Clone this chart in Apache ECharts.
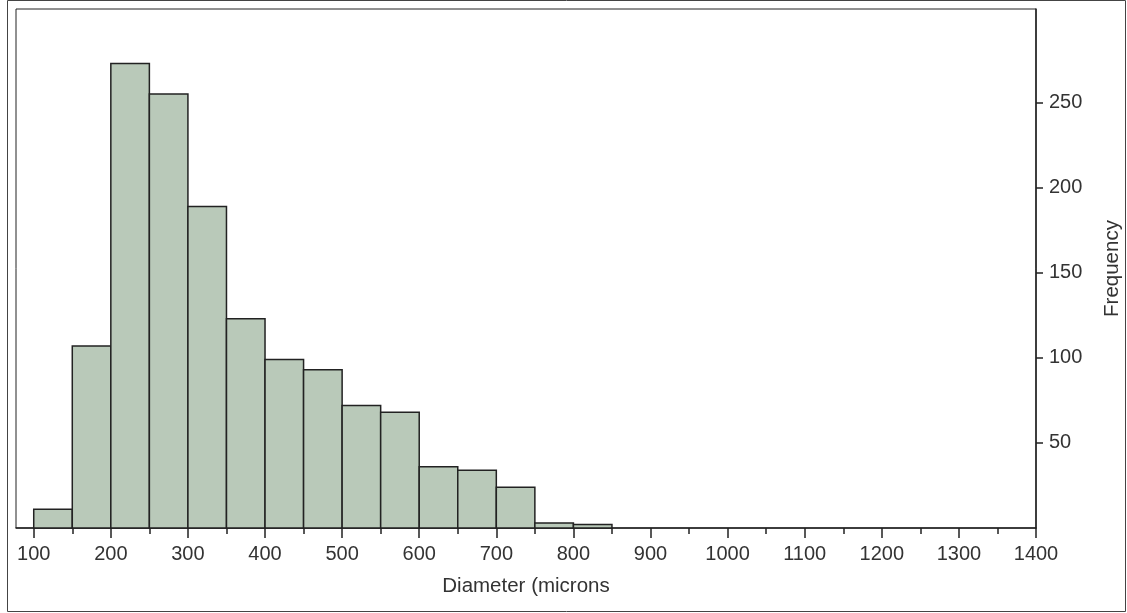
<!DOCTYPE html>
<html lang="en">
<head>
    <meta charset="UTF-8">
    <title>Diameter histogram</title>
    <style>
        html,body{
            height: 100%;
        }
        body{
            margin: 0;
            padding: 0;
            background: #fff;
        }
        #chart_hist{
            width: 1127px;
            height: 613px;
        }
    </style>
</head>
<body>
    <div id="chart_hist"></div>
<script src="https://cdn.jsdelivr.net/npm/echarts@6/dist/echarts.min.js"></script>
<script>
    // bins are 50 microns wide, starting at 100
    var binWidth = 50;
    var binStarts = [100, 150, 200, 250, 300, 350, 400, 450, 500, 550, 600, 650, 700, 750, 800];
    var counts = [11, 107, 273, 255, 189, 123, 99, 93, 72, 68, 36, 34, 24, 3, 2];

    var xMajorTicks = [100, 200, 300, 400, 500, 600, 700, 800, 900, 1000, 1100, 1200, 1300, 1400];
    var xMinorTicks = [150, 250, 350, 450, 550, 650, 750, 850, 950, 1050, 1150, 1250, 1350];
    var yTicks = [50, 100, 150, 200, 250];

    var font = 'Liberation Sans, Arial, sans-serif';
    var ink = '#222';

    var histData = binStarts.map(function (s, i) {
        return [s, s + binWidth, counts[i]];
    });

    function renderBin(params, api) {
        var p0 = api.coord([api.value(0), api.value(2)]);
        var p1 = api.coord([api.value(1), 0]);
        return {
            type: 'rect',
            shape: {x: p0[0], y: p0[1], width: p1[0] - p0[0], height: p1[1] - p0[1]},
            style: {fill: '#b9c9b9', stroke: ink, lineWidth: 1.5}
        };
    }

    function plain(v) {
        return String(v);
    }

    var myChart = echarts.init(document.getElementById('chart_hist'));

    myChart.setOption({
        animation: false,
        graphic: [{
            type: 'rect',
            shape: {x: 7.5, y: 0.5, width: 1118, height: 611},
            style: {fill: null, stroke: '#444', lineWidth: 1}
        }],
        grid: {
            left: 16,
            top: 9,
            right: 91,
            bottom: 85,
            outerBoundsMode: 'none',
            show: true,
            borderColor: ink,
            borderWidth: 1
        },
        xAxis: [{
            type: 'value',
            position: 'bottom',
            min: 77,
            max: 1400,
            name: 'Diameter (microns',
            nameLocation: 'middle',
            nameGap: 48,
            nameTextStyle: {fontFamily: font, fontSize: 20.5, color: '#333'},
            splitLine: {show: false},
            axisLine: {lineStyle: {color: ink, width: 1.5}},
            axisTick: {customValues: xMajorTicks, length: 10, lineStyle: {color: ink, width: 1.5}},
            axisLabel: {customValues: xMajorTicks, formatter: plain, margin: 16, fontFamily: font, fontSize: 20, color: '#333'}
        }, {
            type: 'value',
            position: 'bottom',
            min: 77,
            max: 1400,
            splitLine: {show: false},
            axisLine: {show: false},
            axisTick: {customValues: xMinorTicks, length: 6, lineStyle: {color: ink, width: 1.5}},
            axisLabel: {show: false}
        }],
        yAxis: {
            type: 'value',
            position: 'right',
            min: 0,
            max: 305,
            name: 'Frequency',
            nameLocation: 'middle',
            nameGap: 66,
            nameTextStyle: {fontFamily: font, fontSize: 20.5, color: '#333'},
            splitLine: {show: false},
            axisLine: {show: true, lineStyle: {color: ink, width: 1.5}},
            axisTick: {show: true, customValues: yTicks, length: 7, lineStyle: {color: ink, width: 1.5}},
            axisLabel: {customValues: yTicks, formatter: plain, margin: 13, fontFamily: font, fontSize: 20, color: '#333'}
        },
        series: [{
            type: 'custom',
            renderItem: renderBin,
            encode: {x: [0, 1], y: 2},
            data: histData
        }]
    });
</script>
</body>
</html>
